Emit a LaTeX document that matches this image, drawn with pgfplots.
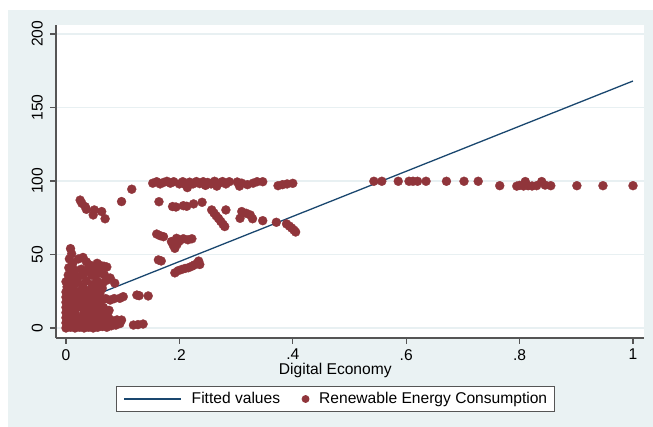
\documentclass[border=0pt]{standalone}
\usepackage{pgfplots}
\usepackage{pgfplotstable}
\pgfplotsset{compat=1.18}
\usepackage{fontspec}
\setmainfont{Liberation Sans}

\definecolor{panelbg}{RGB}{234,242,243}
\definecolor{gridc}{RGB}{232,240,242}
\definecolor{maroon}{RGB}{144,53,59}
\definecolor{navy}{RGB}{26,71,111}
\definecolor{axisgray}{RGB}{85,85,85}

% Digital economy index vs. renewable energy consumption share
\pgfplotstableread{
x y
0 0
0 3.5
0 7
0 10.5
0 14
0 17.5
0 21
0 24.5
0.002 28
0.008 0.5
0.008 4
0.008 7.5
0.008 11
0.008 14.5
0.008 18
0.008 21.5
0.008 25
0.008 28.5
0.016 0
0.016 3.5
0.016 7
0.016 10.5
0.016 14
0.016 17.5
0.016 21
0.016 24.5
0.014 29
0.024 0.5
0.024 4
0.024 7
0.024 14.5
0.024 18
0.024 21
0.024 25
0.032 0
0.032 3.5
0.032 7
0.032 10.5
0.032 14
0.032 17.5
0.032 21
0.032 24.5
0.030 28
0.040 0.5
0.040 4
0.040 7.5
0.040 11
0.040 14.5
0.040 18
0.040 21.5
0.040 25.5
0.048 0
0.048 3.5
0.048 7
0.048 10.5
0.048 14
0.048 17
0.050 21
0.052 25
0.055 28
0.060 24
0.064 27
0.020 33.5
0.030 36
0.045 36
0.035 39
0.012 36.5
0.056 0.5
0.056 4
0.056 8
0.056 12
0.056 16
0.064 1
0.064 5
0.064 9.5
0.066 14
0.072 0.5
0.072 4
0.074 8
0.076 12
0.080 1.5
0.082 5
0.088 2
0.090 5.5
0.095 3
0.098 5.4
0.119 2
0.127 2.3
0.136 2.7
0.058 20
0.063 19
0.070 20
0.078 19
0.085 20
0.095 20.2
0.101 21.3
0.125 22.4
0.129 22
0.145 21.8
0.008 54
0.010 50.5
0.006 47
0.012 44
0.005 41
0.015 39.5
0.004 36
0.018 35.5
0 31.5
0.010 32.5
0.022 47
0.030 48
0.036 45
0.041 43
0.047 42
0.042 39
0.052 41
0.055 44
0.061 42.5
0.067 42
0.072 41.5
0.060 37.5
0.068 36
0.078 34
0.086 30.5
0.065 30.5
0.072 32.5
0.036 32
0.050 35.5
0.055 32
0.046 29.5
0.027 40
0.021 31
0.025 87
0.028 84.8
0.034 82.5
0.036 80.7
0.050 80.3
0.048 76.9
0.063 79.2
0.069 74.3
0.098 86
0.116 94.4
0.153 98.5
0.160 99.5
0.166 98
0.172 99
0.178 99.8
0.184 98.5
0.190 99.5
0.200 98
0.206 99.5
0.211 97.5
0.214 95.5
0.218 99.2
0.224 98
0.230 99.6
0.236 98.2
0.242 99.5
0.246 97
0.250 99
0.256 98
0.262 99.8
0.266 96.5
0.270 98.5
0.276 99.6
0.282 98
0.288 99.5
0.302 99.3
0.306 96.5
0.310 98.5
0.320 97.5
0.330 98.5
0.337 99.5
0.347 99.5
0.374 96.8
0.382 97.5
0.390 98
0.400 98.4
0.164 85.9
0.188 82.6
0.194 82.3
0.207 83.2
0.213 82.8
0.225 84.4
0.240 85.5
0.257 80.3
0.261 78.2
0.265 76.3
0.269 74.5
0.273 72.5
0.277 70.5
0.280 69
0.282 80.3
0.310 79.2
0.307 74.6
0.318 78
0.325 76.9
0.329 74.3
0.347 73
0.371 71.9
0.389 70.8
0.394 69.3
0.398 68
0.402 66.6
0.405 65.3
0.160 63.9
0.166 62.8
0.172 62.1
0.186 58.8
0.189 56.5
0.192 54.2
0.195 61
0.200 59.2
0.207 60.7
0.215 60
0.222 60.7
0.196 57
0.163 46.3
0.168 45.6
0.192 37.5
0.198 39
0.204 39.8
0.210 40.5
0.216 41
0.222 42
0.227 43
0.232 44.2
0.236 43.2
0.234 45.5
0.543 99.8
0.557 99.8
0.586 99.8
0.605 99.8
0.612 99.8
0.620 99.8
0.635 99.8
0.671 99.8
0.702 99.8
0.727 99.8
0.765 96.8
0.795 96.5
0.800 97
0.807 96.6
0.810 99.6
0.815 96.8
0.822 96.6
0.830 96.8
0.839 99.6
0.845 97.2
0.855 96.8
0.901 96.8
0.947 96.8
1.000 96.8
}\recdata

\begin{document}
\fontsize{15.6}{18.5}\selectfont
\begin{tikzpicture}[x=1pt,y=1pt]
  \fill[white] (0,0) rectangle (653,427);
  \fill[panelbg] (8,0) rectangle (653,417);
  \begin{axis}[
    at={(56pt,89pt)}, anchor=south west,
    scale only axis, width=588pt, height=313pt,
    xmin=-0.0176, xmax=1.0194, ymin=-6.8, ymax=206.1,
    axis x line*=bottom, axis y line*=left,
    axis line style={axisgray, line width=1.5pt, -},
    axis background/.style={fill=white},
    tick style={axisgray, line width=1.2pt},
    tick align=outside, major tick length=6pt,
    xtick={0,0.2,0.4,0.6,0.8,1}, xticklabels={0,.2,.4,.6,.8,1},
    ytick={0,50,100,150,200}, yticklabels={0,50,100,150,200},
    ymajorgrids, grid style={gridc, line width=1.2pt},
    yticklabel style={rotate=90, anchor=south, inner sep=0pt, yshift=7pt},
    xticklabel style={anchor=north, inner sep=0pt, yshift=-5pt},
    xlabel={Digital Economy},
    xlabel style={at={(axis description cs:0.475,0)}, anchor=base, inner sep=0pt, yshift=-37pt},
    legend columns=2,
    legend style={at={(0.4753,-0.1949)}, anchor=center,
      draw=axisgray, line width=0.8pt, fill=white,
      inner xsep=7pt, inner ysep=5.5pt,
      nodes={inner sep=0pt},
      /tikz/every odd column/.style={column sep=9.7pt},
      /tikz/every even column/.style={column sep=21.5pt},
      /tikz/column 3/.style={column sep=16.5pt}},
  ]
    \addplot[navy, line width=1.3pt,
      legend image code/.code={\draw[navy, line width=1.3pt] (0pt,0pt) -- (57pt,0pt);}]
      coordinates {(0,14.5) (1,168)};
    \addlegendentry{Fitted values}
    \addplot[only marks, mark=*, mark size=4.5pt,
      mark options={fill=maroon, draw=maroon, line width=0.3pt},
      legend image code/.code={\fill[maroon] (0pt,0pt) circle (3.5pt);}]
      table[x=x, y=y] {\recdata};
    \addlegendentry{Renewable Energy Consumption}
  \end{axis}
\end{tikzpicture}
\end{document}
